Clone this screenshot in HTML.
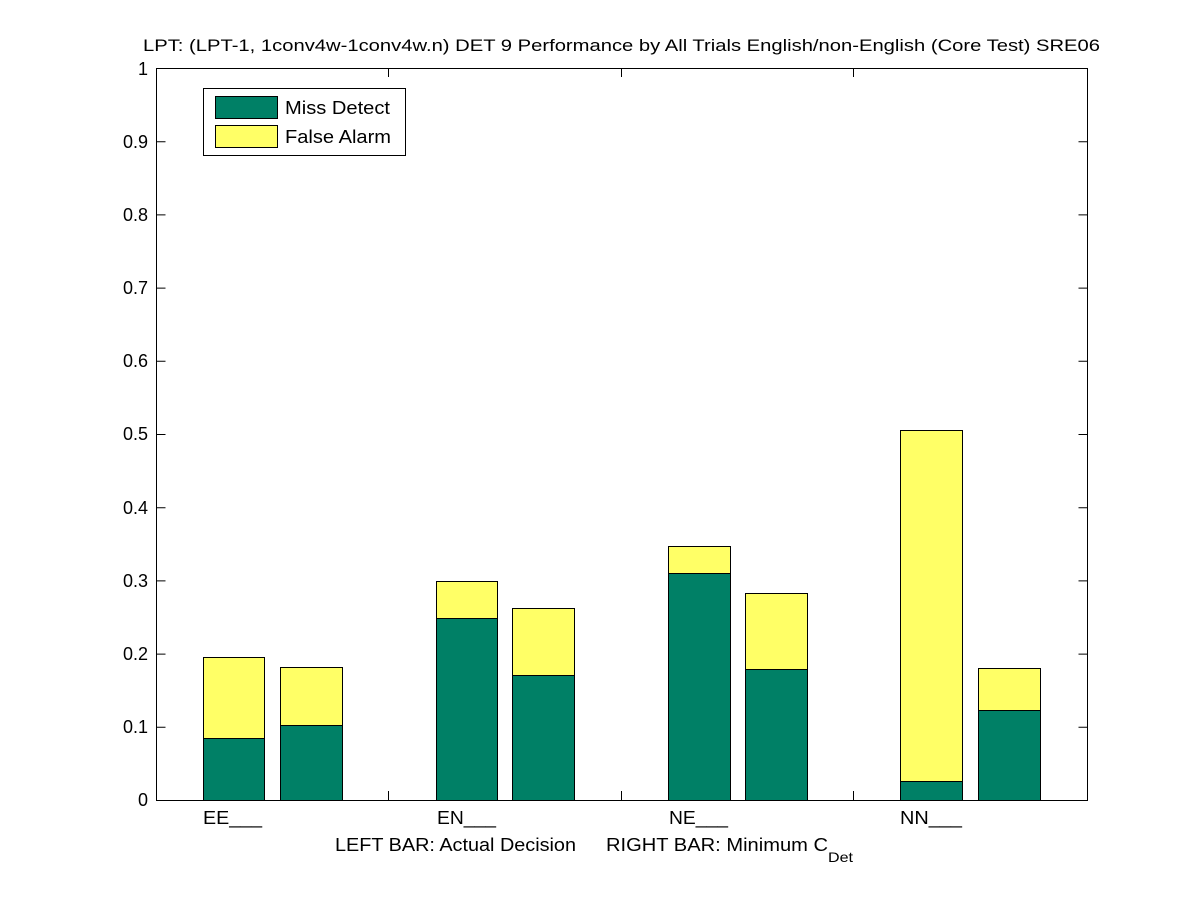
<!DOCTYPE html>
<html><head><style>body{margin:0;background:#fff}svg text{font-family:"Liberation Sans",sans-serif;fill:#000}</style></head>
<body>
<svg width="1201" height="900" xmlns="http://www.w3.org/2000/svg">
<rect width="1201" height="900" fill="#fff"/>
<text x="143" y="51" font-size="17" textLength="957" lengthAdjust="spacingAndGlyphs">LPT: (LPT-1, 1conv4w-1conv4w.n) DET 9 Performance by All Trials English/non-English (Core Test) SRE06</text>
<g stroke="#000" stroke-width="1">
<rect x="203.5" y="657.5" width="61" height="81" fill="#ffff66"/>
<rect x="203.5" y="738.5" width="61" height="62" fill="#008066"/>
<rect x="280.5" y="667.5" width="62" height="58" fill="#ffff66"/>
<rect x="280.5" y="725.5" width="62" height="75" fill="#008066"/>
<rect x="436.5" y="581.5" width="61" height="37" fill="#ffff66"/>
<rect x="436.5" y="618.5" width="61" height="182" fill="#008066"/>
<rect x="512.5" y="608.5" width="62" height="67" fill="#ffff66"/>
<rect x="512.5" y="675.5" width="62" height="125" fill="#008066"/>
<rect x="668.5" y="546.5" width="62" height="27" fill="#ffff66"/>
<rect x="668.5" y="573.5" width="62" height="227" fill="#008066"/>
<rect x="745.5" y="593.5" width="62" height="76" fill="#ffff66"/>
<rect x="745.5" y="669.5" width="62" height="131" fill="#008066"/>
<rect x="900.5" y="430.5" width="62" height="351" fill="#ffff66"/>
<rect x="900.5" y="781.5" width="62" height="19" fill="#008066"/>
<rect x="978.5" y="668.5" width="62" height="42" fill="#ffff66"/>
<rect x="978.5" y="710.5" width="62" height="90" fill="#008066"/>
<rect x="156.5" y="68.5" width="931" height="732" fill="none"/>
<path d="M156.5 727.3h9M156.5 654.1h9M156.5 580.9h9M156.5 507.7h9M156.5 434.5h9M156.5 361.3h9M156.5 288.1h9M156.5 214.9h9M156.5 141.7h9
M1087.5 727.3h-9M1087.5 654.1h-9M1087.5 580.9h-9M1087.5 507.7h-9M1087.5 434.5h-9M1087.5 361.3h-9M1087.5 288.1h-9M1087.5 214.9h-9M1087.5 141.7h-9
M388.5 800v-9M621.5 800v-9M853.5 800v-9M388.5 68v9M621.5 68v9M853.5 68v9" fill="none"/>
<rect x="203.5" y="88.5" width="202" height="67" fill="#fff"/>
<rect x="215.5" y="96.5" width="62" height="22" fill="#008066"/>
<rect x="215.5" y="125.5" width="62" height="22" fill="#ffff66"/>
</g>
<text x="285" y="114" font-size="18" textLength="105" lengthAdjust="spacingAndGlyphs">Miss Detect</text>
<text x="285" y="143" font-size="18" textLength="106" lengthAdjust="spacingAndGlyphs">False Alarm</text>
<g font-size="18" text-anchor="end">
<text x="148" y="806">0</text><text x="148" y="733">0.1</text><text x="148" y="660">0.2</text><text x="148" y="587">0.3</text><text x="148" y="514">0.4</text><text x="148" y="440">0.5</text><text x="148" y="367">0.6</text><text x="148" y="294">0.7</text><text x="148" y="221">0.8</text><text x="148" y="148">0.9</text><text x="148" y="75">1</text>
</g>
<g font-size="18">
<text x="203" y="824" textLength="59" lengthAdjust="spacingAndGlyphs">EE___</text>
<text x="437" y="824" textLength="59" lengthAdjust="spacingAndGlyphs">EN___</text>
<text x="669" y="824" textLength="59" lengthAdjust="spacingAndGlyphs">NE___</text>
<text x="900" y="824" textLength="62" lengthAdjust="spacingAndGlyphs">NN___</text>
</g>
<text x="335" y="851" font-size="18" textLength="241" lengthAdjust="spacingAndGlyphs">LEFT BAR: Actual Decision</text>
<text x="606" y="851" font-size="18" textLength="222" lengthAdjust="spacingAndGlyphs">RIGHT BAR: Minimum C</text>
<text x="828" y="862" font-size="14" textLength="25" lengthAdjust="spacingAndGlyphs">Det</text>
</svg>
</body></html>
